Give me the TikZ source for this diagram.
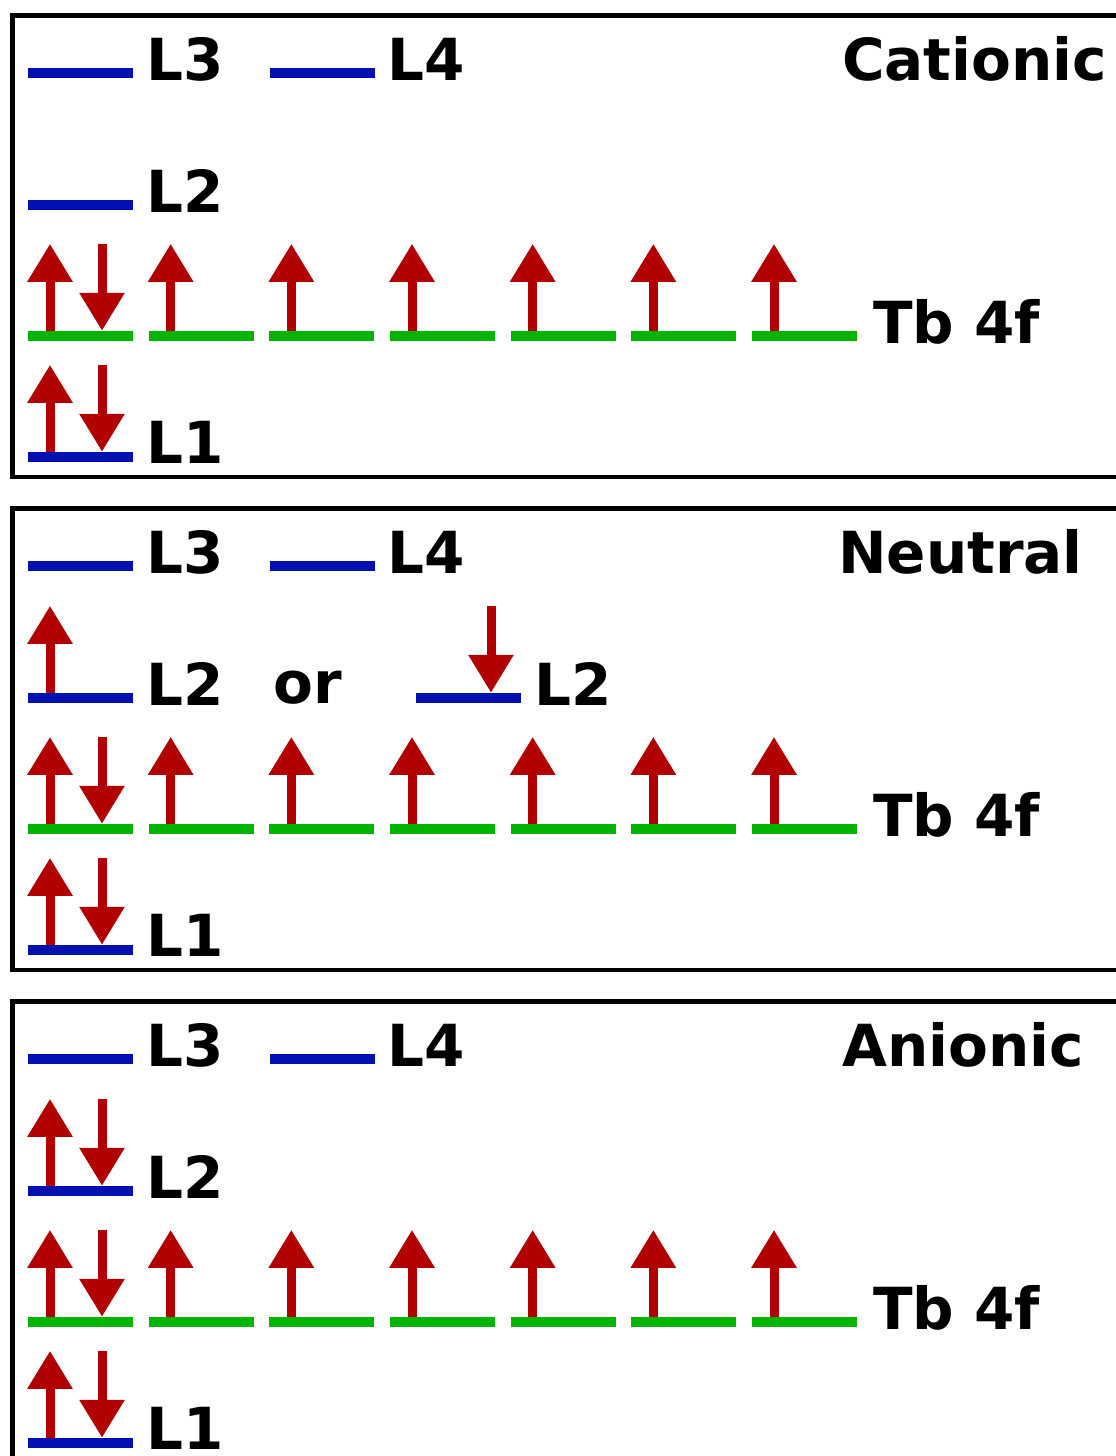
\documentclass[tikz,border=0pt]{standalone}
\usepackage{fontspec}
\setmainfont{DejaVu Sans}
\usetikzlibrary{arrows.meta}
\definecolor{lvblue}{RGB}{0,17,176}
\definecolor{lvgreen}{RGB}{0,180,0}
\definecolor{spinred}{RGB}{178,0,0}
\begin{document}
\begin{tikzpicture}[x=1pt,y=-1pt,
  lvl/.style={fill=#1, draw=none, inner sep=0pt, minimum width=105pt, minimum height=10pt},
  lbl/.style={anchor=base west, inner sep=0pt, font=\fontsize{58}{60}\selectfont\bfseries},
  spin/.style={draw=spinred, line width=9pt, -{Triangle[width=43pt,length=38pt]}},
  frame/.style={draw=black, line width=4.5pt, inner sep=0pt, anchor=north west,
                minimum width=1130pt, minimum height=461.5pt}]
\clip (0,0) rectangle (1116,1456);
\fill[white] (0,0) rectangle (1116,1456);
\foreach \p/\o/\tx/\t in {c/0/842/Cationic, n/493/838/Neutral, a/986/842/Anionic}{
  \begin{scope}[shift={(0,\o)}]
    \node[frame] (\p-box) at (10,13) {};
    \node[lvl=lvblue] (\p-L3) at (80.5,73) {};
    \node[lbl] (\p-L3t) at (146,80) {L3};
    \node[lvl=lvblue] (\p-L4) at (322,73) {};
    \node[lbl] (\p-L4t) at (387,80) {L4};
    \node[lbl] (\p-title) at (\tx,80) {\t};
    \node[lvl=lvblue] (\p-L2) at (80.5,205) {};
    \node[lbl] (\p-L2t) at (146,212) {L2};
    \foreach \i in {0,...,6}{
      \node[lvl=lvgreen] (\p-f\i) at ({80.5+120.67*\i},336) {};
      \draw[spin] ([xshift=-30.5pt]\p-f\i.north) -- ++(0,-87);
    }
    \draw[spin] ([xshift=21.5pt,yshift=87pt]\p-f0.north) -- ([xshift=21.5pt]\p-f0.north);
    \node[lbl] (\p-tb) at (873,343) {Tb 4f};
    \node[lvl=lvblue] (\p-L1) at (80.5,457) {};
    \node[lbl] (\p-L1t) at (146,463) {L1};
    \draw[spin] ([xshift=-30.5pt]\p-L1.north) -- ++(0,-87);
    \draw[spin] ([xshift=21.5pt,yshift=87pt]\p-L1.north) -- ([xshift=21.5pt]\p-L1.north);
  \end{scope}
}
% Neutral: L2 singly occupied, either spin
\draw[spin] ([xshift=-30.5pt]n-L2.north) -- ++(0,-87);
\node[lbl] (n-or) at (273,703) {or};
\node[lvl=lvblue] (n-L2b) at (468.5,698) {};
\node[lbl] (n-L2bt) at (534,705) {L2};
\draw[spin] ([xshift=22.5pt,yshift=87pt]n-L2b.north) -- ([xshift=22.5pt]n-L2b.north);
% Anionic: L2 doubly occupied
\draw[spin] ([xshift=-30.5pt]a-L2.north) -- ++(0,-87);
\draw[spin] ([xshift=21.5pt,yshift=87pt]a-L2.north) -- ([xshift=21.5pt]a-L2.north);
\end{tikzpicture}
\end{document}
